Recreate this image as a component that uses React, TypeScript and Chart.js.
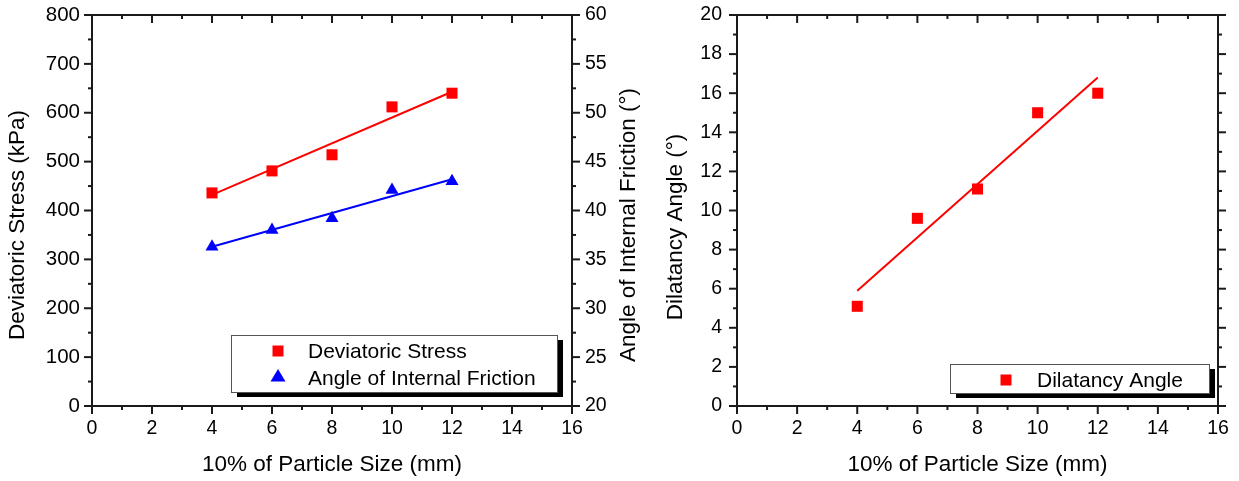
import React, { useEffect, useRef } from "react";
import { Chart, registerables } from "chart.js";
Chart.register(...registerables);

// ---- data ----
const particleSize = [4, 6, 8, 10, 12];
const deviatoricStress = [436, 481, 514, 612, 640];
const frictionAngle = [36.3, 38.0, 39.2, 42.1, 43.0];
const dilatancyAngle = [5.1, 9.6, 11.1, 15.0, 16.0];
const fitX = [4, 12];
const stressFit = [432, 643];
const frictionFit = [36.3, 43.2];
const dilatancyFit = [5.9, 16.8];

const xTicks = [0, 2, 4, 6, 8, 10, 12, 14, 16];
const stressTicks = [0, 100, 200, 300, 400, 500, 600, 700, 800];
const frictionTicks = [20, 25, 30, 35, 40, 45, 50, 55, 60];
const dilatancyTicks = [0, 2, 4, 6, 8, 10, 12, 14, 16, 18, 20];

const xTitle = "10% of Particle Size (mm)";
const stressTitle = "Deviatoric Stress (kPa)";
const frictionTitle = "Angle of Internal Friction (°)";
const dilatancyTitle = "Dilatancy Angle (°)";

// ---- styles ----
const FAMILY = "'Liberation Sans', Arial, sans-serif";
const TICK_FONT = { family: FAMILY, size: 19.5 };
const BIG_TICK_FONT = { family: FAMILY, size: 20.5 };
const TITLE_FONT = `22.5px ${FAMILY}`;
const LEGEND_FONT = `21px ${FAMILY}`;
const AXIS = "#1a1a1a";
const RED = "#ff0000";
const BLUE = "#0000ff";

const mids = (arr: number[]) => arr.slice(0, -1).map((v, i) => (v + arr[i + 1]) / 2);
const pts = (xs: number[], ys: number[]) => xs.map((x, i) => ({ x, y: ys[i] }));

type LegendItem = { label: string; style: "rect" | "triangle"; color: string; mx: number; my: number; tx: number; ty: number };
type DecorCfg = {
  leftScale: string;
  leftTicks: number[];
  rightScale: string;
  rightTicks: number[];
  titles: { text: string; x: number; y: number; rot: boolean }[];
  legendBox: [number, number, number, number];
  legend: LegendItem[];
};

function makeDecor(cfg: DecorCfg) {
  return {
    id: "decor",
    afterDraw(chart: any) {
      const ctx = chart.ctx as CanvasRenderingContext2D;
      const a = chart.chartArea;
      const xs = chart.scales.x;
      const ls = chart.scales[cfg.leftScale];
      const rs = chart.scales[cfg.rightScale];
      ctx.save();
      ctx.strokeStyle = AXIS;
      ctx.lineWidth = 2;
      const line = (x1: number, y1: number, x2: number, y2: number) => {
        ctx.beginPath();
        ctx.moveTo(x1, y1);
        ctx.lineTo(x2, y2);
        ctx.stroke();
      };
      // frame
      ctx.strokeRect(a.left, a.top, a.right - a.left, a.bottom - a.top);
      // x ticks: bottom outward, top inward
      const xm = [...xTicks.map((v) => [v, 8]), ...mids(xTicks).map((v) => [v, 4])];
      xm.forEach(([v, len]) => {
        const p = xs.getPixelForValue(v);
        line(p, a.bottom, p, a.bottom + len);
        line(p, a.top, p, a.top + len);
      });
      // left ticks outward
      [...cfg.leftTicks.map((v) => [v, 8]), ...mids(cfg.leftTicks).map((v) => [v, 4])].forEach(([v, len]) => {
        const p = ls.getPixelForValue(v);
        line(a.left, p, a.left - len, p);
      });
      // right ticks outward
      [...cfg.rightTicks.map((v) => [v, 8]), ...mids(cfg.rightTicks).map((v) => [v, 4])].forEach(([v, len]) => {
        const p = rs.getPixelForValue(v);
        line(a.right, p, a.right + len, p);
      });
      // titles
      ctx.fillStyle = "#000";
      ctx.font = TITLE_FONT;
      ctx.textAlign = "center";
      ctx.textBaseline = "middle";
      cfg.titles.forEach((t) => {
        ctx.save();
        ctx.translate(t.x, t.y);
        if (t.rot) ctx.rotate(-Math.PI / 2);
        ctx.fillText(t.text, 0, 0);
        ctx.restore();
      });
      // legend
      const [bx, by, bw, bh] = cfg.legendBox;
      ctx.fillStyle = "#000";
      ctx.fillRect(bx + 6, by + 5, bw, bh);
      ctx.fillStyle = "#fff";
      ctx.fillRect(bx, by, bw, bh);
      ctx.strokeStyle = "#555";
      ctx.lineWidth = 1;
      ctx.strokeRect(bx + 0.5, by + 0.5, bw, bh);
      ctx.font = LEGEND_FONT;
      ctx.textAlign = "left";
      ctx.textBaseline = "alphabetic";
      cfg.legend.forEach((it) => {
        ctx.fillStyle = it.color;
        if (it.style === "rect") {
          ctx.fillRect(it.mx - 5.5, it.my - 5.5, 11, 11);
        } else {
          ctx.beginPath();
          ctx.moveTo(it.mx, it.my - 7);
          ctx.lineTo(it.mx + 7.5, it.my + 5.5);
          ctx.lineTo(it.mx - 7.5, it.my + 5.5);
          ctx.closePath();
          ctx.fill();
        }
        ctx.fillStyle = "#000";
        ctx.fillText(it.label, it.tx, it.ty);
      });
      ctx.restore();
    },
  };
}

function tickSetter(values: number[]) {
  return (s: any) => {
    s.ticks = values.map((v) => ({ value: v }));
  };
}

function baseX() {
  return {
    type: "linear",
    position: "bottom",
    min: 0,
    max: 16,
    afterBuildTicks: tickSetter(xTicks),
    ticks: { font: TICK_FONT, color: "#000", padding: 11, maxRotation: 0, autoSkip: false },
    grid: { display: false, drawTicks: false },
    border: { display: false },
    afterFit: (s: any) => {
      s.height = 75;
      s.paddingLeft = 0;
      s.paddingRight = 0;
    },
  };
}

function yScale(position: string, min: number, max: number, values: number[], padding: number, width: number, font: any) {
  return {
    type: "linear",
    position,
    min,
    max,
    afterBuildTicks: tickSetter(values),
    ticks: { font, color: "#000", padding, autoSkip: false },
    grid: { display: false, drawTicks: false },
    border: { display: false },
    afterFit: (s: any) => {
      s.width = width;
      s.paddingTop = 0;
      s.paddingBottom = 0;
    },
  };
}

const commonOpts = {
  responsive: false,
  animation: false,
  devicePixelRatio: 1,
  plugins: { legend: { display: false }, tooltip: { enabled: false } },
  events: [],
};

export default function App() {
  const leftRef = useRef<HTMLCanvasElement>(null);
  const rightRef = useRef<HTMLCanvasElement>(null);

  useEffect(() => {
    const left = new Chart(leftRef.current!, {
      type: "scatter",
      data: {
        datasets: [
          {
            label: "Deviatoric Stress",
            data: pts(particleSize, deviatoricStress),
            yAxisID: "y",
            pointStyle: "rect",
            pointRadius: 7.8,
            backgroundColor: RED,
            borderColor: RED,
            borderWidth: 0,
          },
          {
            label: "Angle of Internal Friction",
            data: pts(particleSize, frictionAngle),
            yAxisID: "y2",
            pointStyle: "triangle",
            pointRadius: 7.5,
            backgroundColor: BLUE,
            borderColor: BLUE,
            borderWidth: 0,
          },
          {
            label: "stress fit",
            data: pts(fitX, stressFit),
            yAxisID: "y",
            showLine: true,
            pointRadius: 0,
            borderColor: RED,
            borderWidth: 2,
          },
          {
            label: "friction fit",
            data: pts(fitX, frictionFit),
            yAxisID: "y2",
            showLine: true,
            pointRadius: 0,
            borderColor: BLUE,
            borderWidth: 2,
          },
        ],
      } as any,
      options: {
        ...commonOpts,
        layout: { padding: { top: 15, right: 0, left: 0, bottom: 0 } },
        scales: {
          x: baseX(),
          y: yScale("left", 0, 800, stressTicks, 12, 92, BIG_TICK_FONT),
          y2: yScale("right", 20, 60, frictionTicks, 13, 73, TICK_FONT),
        },
      } as any,
      plugins: [
        makeDecor({
          leftScale: "y",
          leftTicks: stressTicks,
          rightScale: "y2",
          rightTicks: frictionTicks,
          titles: [
            { text: stressTitle, x: 18, y: 225, rot: true },
            { text: frictionTitle, x: 629, y: 225, rot: true },
            { text: xTitle, x: 332, y: 465, rot: false },
          ],
          legendBox: [231, 335, 326, 57],
          legend: [
            { label: "Deviatoric Stress", style: "rect", color: RED, mx: 278, my: 351, tx: 308, ty: 358 },
            { label: "Angle of Internal Friction", style: "triangle", color: BLUE, mx: 278, my: 376, tx: 308, ty: 385 },
          ],
        }),
      ],
    });

    const right = new Chart(rightRef.current!, {
      type: "scatter",
      data: {
        datasets: [
          {
            label: "Dilatancy Angle",
            data: pts(particleSize, dilatancyAngle),
            pointStyle: "rect",
            pointRadius: 7.8,
            backgroundColor: RED,
            borderColor: RED,
            borderWidth: 0,
          },
          {
            label: "dilatancy fit",
            data: pts(fitX, dilatancyFit),
            showLine: true,
            pointRadius: 0,
            borderColor: RED,
            borderWidth: 2,
          },
        ],
      } as any,
      options: {
        ...commonOpts,
        layout: { padding: { top: 15, right: 21, left: 0, bottom: 0 } },
        scales: {
          x: baseX(),
          y: yScale("left", 0, 20, dilatancyTicks, 15, 92, TICK_FONT),
        },
      } as any,
      plugins: [
        makeDecor({
          leftScale: "y",
          leftTicks: dilatancyTicks,
          rightScale: "y",
          rightTicks: dilatancyTicks,
          titles: [
            { text: dilatancyTitle, x: 31, y: 227, rot: true },
            { text: xTitle, x: 332.5, y: 465, rot: false },
          ],
          legendBox: [305, 364, 259, 29],
          legend: [{ label: "Dilatancy Angle", style: "rect", color: RED, mx: 361, my: 380, tx: 392, ty: 387 }],
        }),
      ],
    });

    return () => {
      left.destroy();
      right.destroy();
    };
  }, []);

  return (
    <div style={{ position: "absolute", left: 0, top: 0, width: 1239, height: 481, background: "#fff" }}>
      <canvas ref={leftRef} width={645} height={481} style={{ position: "absolute", left: 0, top: 0 }} />
      <canvas ref={rightRef} width={594} height={481} style={{ position: "absolute", left: 645, top: 0 }} />
    </div>
  );
}
